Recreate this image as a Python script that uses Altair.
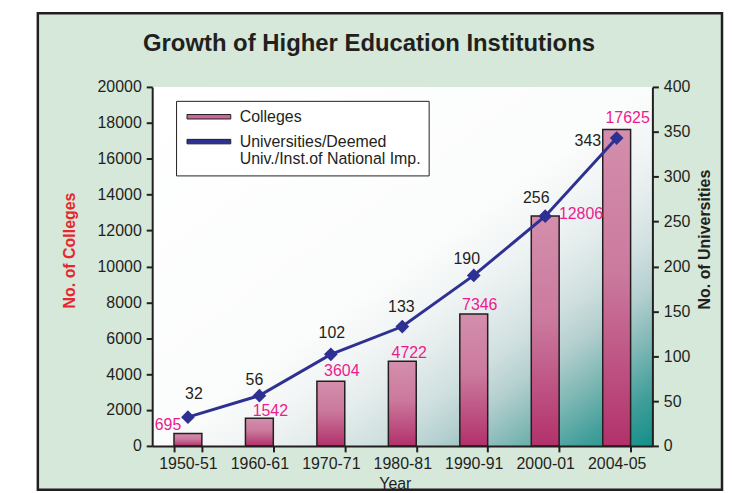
import altair as alt
import pandas as pd

# ---------------- data ----------------
years = ["1950-51", "1960-61", "1970-71", "1980-81", "1990-91", "2000-01", "2004-05"]
colleges = [695, 1542, 3604, 4722, 7346, 12806, 17625]
universities = [32, 56, 102, 133, 190, 256, 343]
series = ["Colleges", "Universities/Deemed Univ./Inst.of National Imp."]
college_ticks = list(range(0, 20001, 2000))
univ_ticks = list(range(0, 401, 50))
chart_title = "Growth of Higher Education Institutions"

df = pd.DataFrame({"year": years, "colleges": colleges,
                   "universities": universities, "series": series[0]})
one = pd.DataFrame({"k": [0]})

# ---------------- style ----------------
W, H = 503, 361
FONT = "Liberation Sans"
INK = "#231f20"
PINK_TXT = "#ec1b8f"
NAVY = "#2e3192"
RED = "#e8262d"

# label offsets (pixels) relative to bar top / line point
col_off = {"1950-51": (-20, -8), "1960-61": (11, -7), "1970-71": (11, -10),
           "1980-81": (7, -8), "1990-91": (6, -9), "2000-01": (36, -2),
           "2004-05": (11, -12)}
uni_off = {"1950-51": (6, -23), "1960-61": (-5, -16), "1970-71": (1, -21),
           "1980-81": (-1, -20), "1990-91": (-7, -16), "2000-01": (-9, -18),
           "2004-05": (-29, 3)}

bar_grad = {"gradient": "linear", "x1": 0, "y1": 0, "x2": 0, "y2": 1,
            "stops": [{"offset": 0, "color": "#d48eac"},
                      {"offset": 0.45, "color": "#cb7a9e"},
                      {"offset": 1, "color": "#b2316b"}]}
bg_grad = {"gradient": "linear", "x1": 0, "y1": 0, "x2": 1, "y2": 1,
           "stops": [{"offset": 0, "color": "#ffffff"},
                     {"offset": 0.5, "color": "#fbfcfc"},
                     {"offset": 0.57, "color": "#f3f6f6"},
                     {"offset": 0.64, "color": "#e6eded"},
                     {"offset": 0.72, "color": "#cfdfdf"},
                     {"offset": 0.78, "color": "#b4cfcf"},
                     {"offset": 0.85, "color": "#80b8b5"},
                     {"offset": 0.93, "color": "#3e9d99"},
                     {"offset": 1, "color": "#138f89"}]}

x_enc = alt.X("year:N", sort=years,
              scale=alt.Scale(paddingInner=0.61, paddingOuter=0.305),
              axis=alt.Axis(title="Year", tickBand="extent", labelAngle=0,
                            labelFontSize=16, labelColor=INK, labelPadding=4,
                            labelOverlap=False,
                            titleFontSize=16, titleFontWeight="normal", titleColor=INK,
                            titlePadding=4, titleX=244,
                            domainColor=INK, domainWidth=2, tickColor=INK,
                            tickWidth=2, tickSize=6, zindex=1))

col_axis = alt.Axis(title="No. of Colleges", values=college_ticks, format="d",
                    tickCount=11, grid=False, labelFontSize=16, labelColor=INK,
                    labelPadding=5, labelOverlap=False,
                    titleFontSize=16, titleFontWeight="bold", titleColor=RED,
                    titlePadding=20, titleY=164, domainColor=INK, domainWidth=2,
                    tickColor=INK, tickWidth=2, tickSize=6, zindex=1)
uni_axis = alt.Axis(title="No. of Universities", orient="right",
                    values=univ_ticks, format="d", grid=False,
                    labelFontSize=16, labelColor=INK, labelPadding=5,
                    labelOverlap=False,
                    titleFontSize=16, titleFontWeight="bold", titleColor=INK,
                    titleAngle=270, titleBaseline="top", titleY=153,
                    titlePadding=7, domainColor=INK, domainWidth=2,
                    tickColor=INK, tickWidth=2, tickSize=6, zindex=1)


def y_col():
    return alt.Y("colleges:Q", scale=alt.Scale(domain=[0, 20000]), axis=col_axis)


def y_uni():
    return alt.Y("universities:Q", scale=alt.Scale(domain=[0, 400]), axis=uni_axis)


base = alt.Chart(df)

legend = alt.Legend(title=None, orient="none", legendX=24, legendY=14,
                    direction="vertical",
                    symbolType="M-1,-0.45H7.8V0.45H-1Z", symbolSize=100,
                    symbolStrokeColor=INK, symbolStrokeWidth=1,
                    labelFont=FONT, labelFontSize=16, labelColor=INK,
                    labelOffset=40, labelLimit=400,
                    labelExpr="split(replace(datum.label, 'Deemed ', 'Deemed|'), '|')",
                    padding=8, rowPadding=9, strokeColor=INK, fillColor="white")

bars_color = base.mark_bar().encode(
    x=x_enc, y=y_col(),
    color=alt.Color("series:N", scale=alt.Scale(domain=series, range=["#c8699a", NAVY]),
                    legend=legend))
bars = base.mark_bar(fill=bar_grad, stroke=INK, strokeWidth=1.5).encode(
    x=x_enc, y=y_col())

col_labels = []
for yr, (dx, dy) in col_off.items():
    col_labels.append(
        base.transform_filter(alt.datum.year == yr)
        .mark_text(fontSize=16, color=PINK_TXT, dx=dx, dy=dy, baseline="middle")
        .encode(x=x_enc, y=y_col(), text=alt.Text("colleges:Q", format="d")))

line = base.mark_line(color=NAVY, strokeWidth=3).encode(x=x_enc, y=y_uni())
points = base.mark_point(shape="diamond", filled=True, size=190, color=NAVY,
                         opacity=1).encode(x=x_enc, y=y_uni())
uni_labels = []
for yr, (dx, dy) in uni_off.items():
    uni_labels.append(
        base.transform_filter(alt.datum.year == yr)
        .mark_text(fontSize=16, color=INK, dx=dx, dy=dy, baseline="middle")
        .encode(x=x_enc, y=y_uni(), text=alt.Text("universities:Q", format="d")))

group_col = alt.layer(bars_color, bars, *col_labels)
group_uni = alt.layer(line, points, *uni_labels)

frame = alt.Chart(one).mark_rect(fill="#d5e8da", stroke=INK, strokeWidth=2.5).encode(
    x=alt.value(-115), x2=alt.value(573), y=alt.value(-74), y2=alt.value(405))
plot_bg = alt.Chart(one).mark_rect(fill=bg_grad).encode(
    x=alt.value(0), x2=alt.value("width"), y=alt.value(0), y2=alt.value("height"))
title = alt.Chart(one).mark_text(text=chart_title, fontSize=24, fontWeight="bold",
                                 color=INK, baseline="middle", align="center").encode(
    x=alt.value(218), y=alt.value(-43))

chart = (alt.layer(frame, plot_bg, title, group_col, group_uni)
         .resolve_scale(y="independent")
         .properties(width=W, height=H, background="white",
                     padding={"left": 28, "top": 2, "right": 0, "bottom": 0})
         .configure_view(stroke=None)
         .configure(font=FONT))

chart.save("out.html", embed_options={"renderer": "svg", "actions": False})
